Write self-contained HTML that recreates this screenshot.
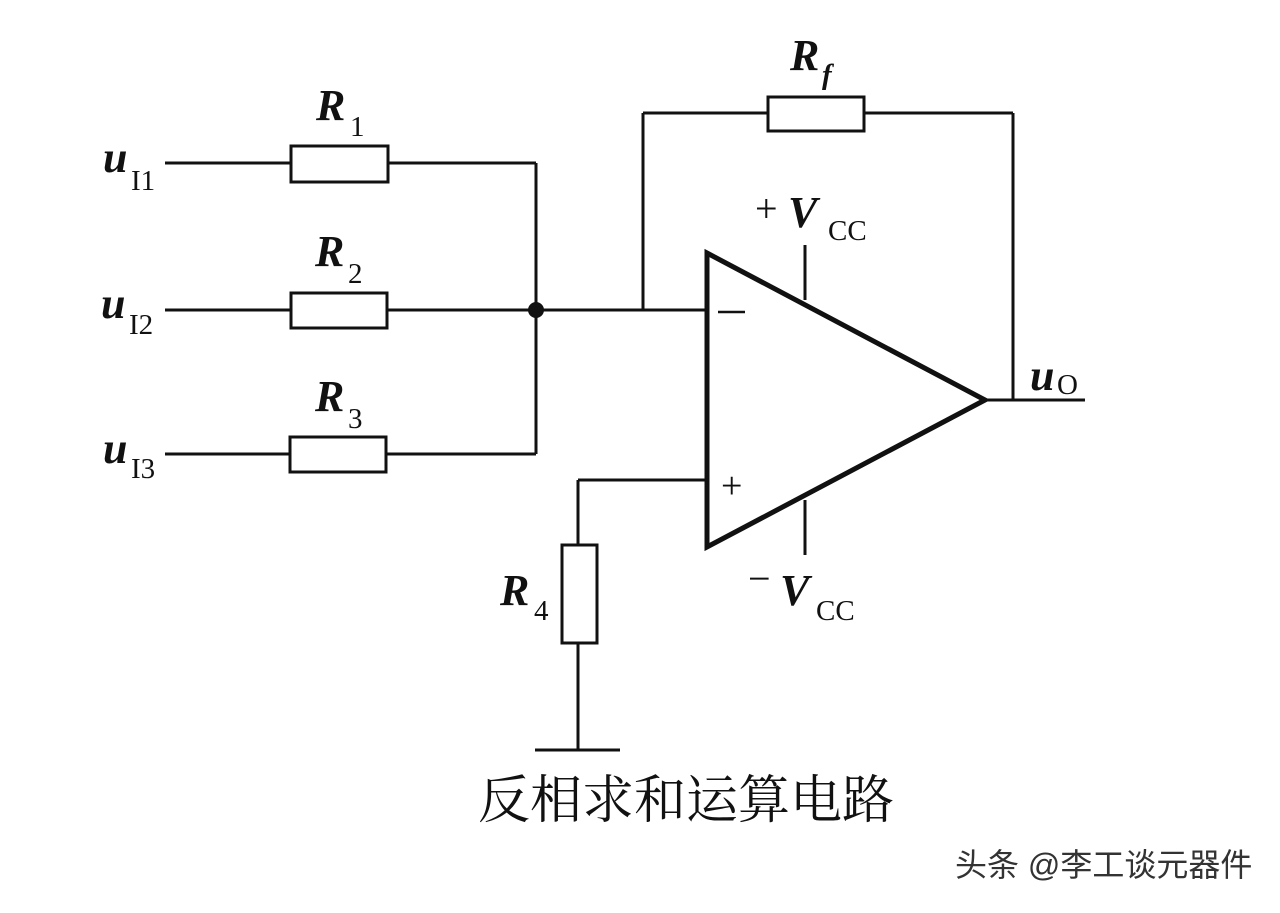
<!DOCTYPE html>
<html><head><meta charset="utf-8"><style>
body{margin:0;background:#fff;}
svg text{font-family:"Liberation Serif","Noto Serif CJK SC",serif;fill:#111;}
</style></head><body>
<svg width="1280" height="908" viewBox="0 0 1280 908" xmlns="http://www.w3.org/2000/svg">
<rect width="1280" height="908" fill="#fff"/>
<g stroke="#111" stroke-width="3" fill="none">
<line x1="165" y1="163" x2="291" y2="163"/><line x1="388" y1="163" x2="536" y2="163"/>
<line x1="165" y1="310" x2="291" y2="310"/><line x1="387" y1="310" x2="707" y2="310"/>
<line x1="165" y1="454" x2="290" y2="454"/><line x1="386" y1="454" x2="536" y2="454"/>
<line x1="536" y1="163" x2="536" y2="454"/>
<rect x="291" y="146" width="97" height="36"/>
<rect x="291" y="293" width="96" height="35"/>
<rect x="290" y="437" width="96" height="35"/>
<line x1="643" y1="310" x2="643" y2="113"/><line x1="643" y1="113" x2="768" y2="113"/>
<rect x="768" y="97" width="96" height="34"/>
<line x1="864" y1="113" x2="1013" y2="113"/><line x1="1013" y1="113" x2="1013" y2="400"/>
<line x1="985" y1="400" x2="1085" y2="400"/>
<line x1="805" y1="245" x2="805" y2="300"/><line x1="805" y1="500" x2="805" y2="555"/>
<line x1="578" y1="480" x2="707" y2="480"/><line x1="578" y1="480" x2="578" y2="545"/>
<rect x="562" y="545" width="35" height="98"/>
<line x1="578" y1="643" x2="578" y2="750"/>
<line x1="535" y1="750" x2="620" y2="750"/>
<polygon points="707,253 985,400 707,547" stroke-width="5"/>
<line x1="718" y1="312" x2="745" y2="312" stroke-width="2.5"/>
</g>
<circle cx="536" cy="310" r="8" fill="#111"/>
<g font-style="italic" font-weight="bold" font-size="44">
<text x="316" y="120">R</text><text x="315" y="266">R</text><text x="315" y="411">R</text>
<text x="790" y="70">R</text><text x="500" y="605">R</text>
<text x="103" y="172">u</text><text x="101" y="318">u</text><text x="103" y="463">u</text>
<text x="1030" y="390">u</text>
<text x="788" y="227">V</text><text x="780" y="605">V</text>
</g>
<g font-size="29">
<text x="350" y="136">1</text><text x="348" y="283">2</text><text x="348" y="428">3</text>
<text x="822" y="84" font-weight="bold" font-style="italic">f</text><text x="534" y="620">4</text>
<text x="131" y="190">I1</text><text x="129" y="334">I2</text><text x="131" y="478">I3</text>
<text x="1057" y="394">O</text>
<text x="828" y="240">CC</text><text x="816" y="620">CC</text>
</g>
<text x="755" y="222" font-size="40">+</text>
<text x="748" y="592" font-size="40">−</text>
<text x="721" y="498" font-size="38">+</text>
<text x="478" y="818" font-size="52">反相求和运算电路</text>
<text x="955" y="876" font-size="32" style="font-family:'Liberation Sans','Noto Sans CJK SC',sans-serif;fill:#333">头条 @李工谈元器件</text>
</svg>
</body></html>
